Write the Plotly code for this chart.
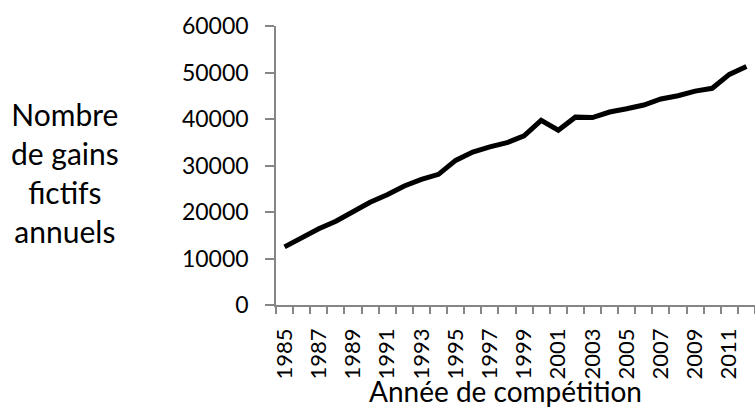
import plotly.graph_objects as go

years = list(range(1985, 2013))
gains = [12500, 14500, 16400, 18000, 20000, 22100, 23700, 25600, 27000, 28100,
         31100, 32900, 34000, 34900, 36400, 39700, 37600, 40400, 40300, 41500,
         42200, 43000, 44300, 45000, 46000, 46600, 49600, 51300]
ytick_vals = [0, 10000, 20000, 30000, 40000, 50000, 60000]
xtick_labels = [y for y in years if (y - 1985) % 2 == 0]

FONT = "Lato, 'Open Sans', sans-serif"
AXC = "#868686"

L, T, B = 276, 26, 102.3
PW, PH = 755 - L, 407 - T - B

fig = go.Figure()
fig.add_trace(go.Scatter(x=years, y=gains, mode="lines",
                         line=dict(color="black", width=5), showlegend=False))

fig.update_layout(
    width=755, height=407,
    margin=dict(l=L, r=0, t=T, b=B),
    plot_bgcolor="white", paper_bgcolor="white",
    font=dict(family=FONT, size=23, color="black"),
    xaxis=dict(range=[1984.5, 2012.5], tickmode="array",
               tickvals=xtick_labels, ticktext=[str(v) for v in xtick_labels],
               tickangle=-90, ticks="", showgrid=False, zeroline=False,
               showline=True, linecolor=AXC, linewidth=1.5,
               ticklabelstandoff=13,
               minor=dict(tick0=1984.5, dtick=1, ticks="outside", ticklen=7,
                          tickcolor=AXC, tickwidth=1.5, showgrid=False),
               tickfont=dict(size=22)),
    yaxis=dict(range=[0, 60000], tickmode="array", tickvals=ytick_vals,
               ticktext=[str(v) for v in ytick_vals],
               ticks="outside", ticklen=9, tickcolor=AXC, tickwidth=1.5,
               ticklabelstandoff=12,
               showgrid=False, zeroline=False, showline=True,
               linecolor=AXC, linewidth=1.5, tickfont=dict(size=23)),
)

fig.add_annotation(text="Nombre<br>de gains<br>fictifs<br>annuels",
                   xref="paper", yref="paper", x=(65 - L) / PW,
                   y=(407 - B - 172) / PH,
                   xanchor="center", yanchor="middle", showarrow=False,
                   align="center", font=dict(size=30, family=FONT))
fig.add_annotation(text="Année de compétition", xref="paper", yref="paper",
                   x=(505 - L) / PW, y=-(391 - (407 - B)) / PH,
                   xanchor="center", yanchor="middle", showarrow=False,
                   font=dict(size=28, family=FONT))

fig.write_html("out.html", config={"displayModeBar": False},
               post_script="document.body.style.margin='0px';")
